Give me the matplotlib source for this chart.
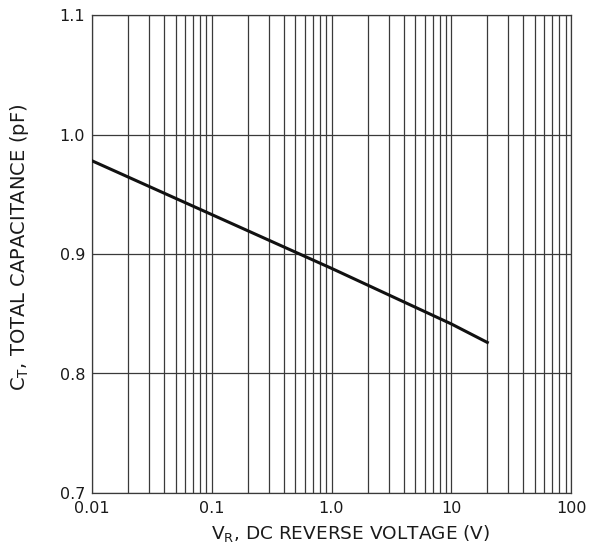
import matplotlib
matplotlib.use("Agg")
import matplotlib.pyplot as plt
from matplotlib.ticker import FixedLocator, NullFormatter

plt.rcParams['font.family'] = ['DejaVu Sans']

# Data
vr = [0.01, 0.1, 1.0, 10.0, 20.0]
ct = [0.978, 0.933, 0.888, 0.8415, 0.826]

x_ticks = [0.01, 0.1, 1.0, 10, 100]
x_tick_labels = ["0.01", "0.1", "1.0", "10", "100"]
y_ticks = [0.7, 0.8, 0.9, 1.0, 1.1]
y_tick_labels = ["0.7", "0.8", "0.9", "1.0", "1.1"]

fig = plt.figure(figsize=(5.99, 5.46), dpi=100)
ax = fig.add_axes([92/599, 1 - 493/546, (571-92)/599, (493-15)/546])

ax.set_xscale('log')
ax.set_xlim(0.01, 100)
ax.set_ylim(0.7, 1.1)

minor = [m * 10**e for e in range(-2, 2) for m in range(2, 10)]
ax.xaxis.set_minor_locator(FixedLocator(minor))
ax.xaxis.set_minor_formatter(NullFormatter())
ax.set_xticks(x_ticks)
ax.set_xticklabels(x_tick_labels)
ax.set_yticks(y_ticks)
ax.set_yticklabels(y_tick_labels)

gc = '#3a3a3a'
ax.grid(True, which='major', axis='both', color=gc, linewidth=0.9)
ax.grid(True, which='minor', axis='x', color=gc, linewidth=0.9)
ax.tick_params(which='both', length=0, labelsize=11.5, colors='#1a1a1a')
ax.tick_params(axis='x', pad=6)
ax.tick_params(axis='y', pad=5)
for s in ax.spines.values():
    s.set_color(gc)
    s.set_linewidth(0.9)

ax.plot(vr, ct, color='#111111', linewidth=2.2, zorder=5)

ax.set_xlabel(r"V$_\mathregular{R}$, DC REVERSE VOLTAGE (V)", fontsize=13.3, labelpad=3, color='#1a1a1a')
ax.xaxis.set_label_coords(0.539, -0.062)
ax.set_ylabel(r"C$_\mathregular{T}$, TOTAL CAPACITANCE (pF)", fontsize=14.0, color='#1a1a1a')
ax.yaxis.set_label_coords(-0.128, 0.514)

fig.savefig("out.png", dpi=100)
